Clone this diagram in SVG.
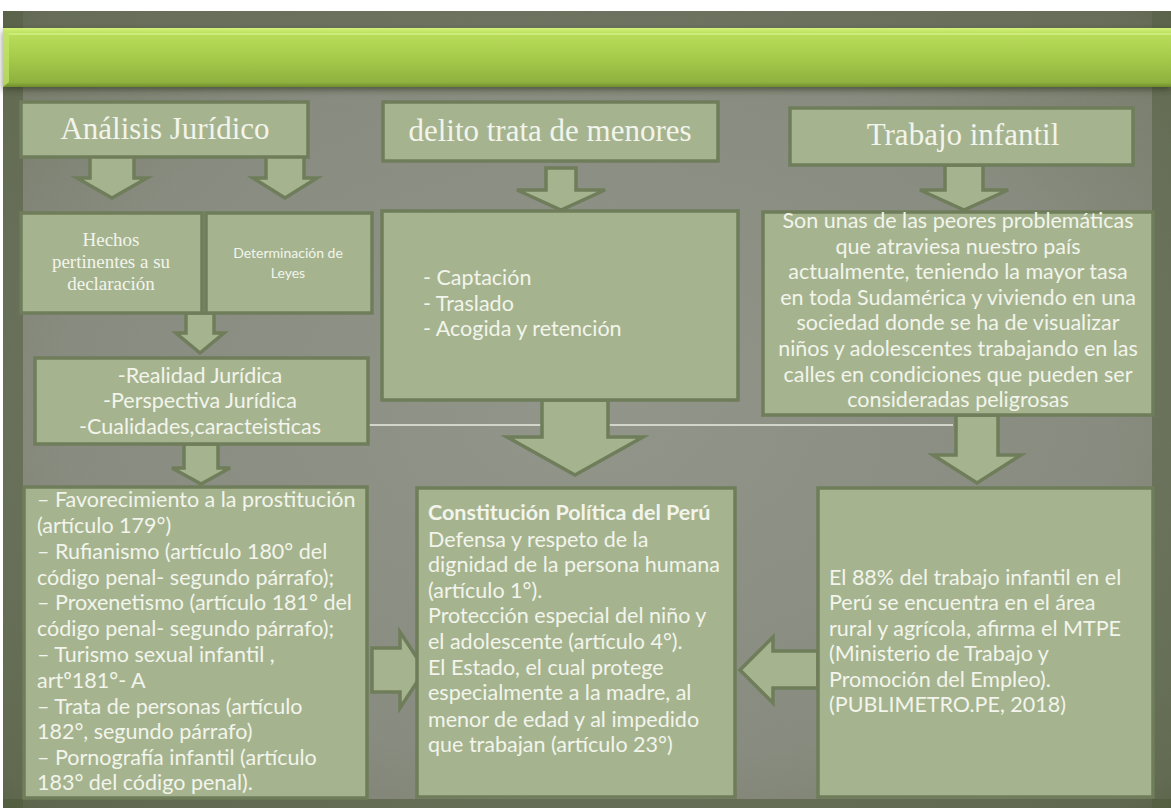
<svg xmlns="http://www.w3.org/2000/svg" width="1171" height="808" viewBox="0 0 1171 808">
<defs>
<radialGradient id="bg" cx="0.5" cy="0.5" r="0.75">
<stop offset="0" stop-color="#929589"/>
<stop offset="0.6" stop-color="#888b7f"/>
<stop offset="0.9" stop-color="#767b69"/>
<stop offset="1" stop-color="#5a6448"/>
</radialGradient>
<linearGradient id="ban" x1="0" y1="0" x2="0" y2="1">
<stop offset="0" stop-color="#d3f27a"/>
<stop offset="0.1" stop-color="#b9dd5a"/>
<stop offset="0.5" stop-color="#a6cb4b"/>
<stop offset="0.92" stop-color="#8fb13f"/>
<stop offset="1" stop-color="#6f8d2c"/>
</linearGradient>
<filter id="grain" x="0" y="0" width="100%" height="100%">
<feTurbulence type="fractalNoise" baseFrequency="0.9" numOctaves="2" seed="3" result="n"/>
<feColorMatrix in="n" type="matrix" values="0 0 0 0 0.3  0 0 0 0 0.32  0 0 0 0 0.26  0 0 0 -1.4 0.85" />
</filter>
<filter id="sh" x="-5%" y="-20%" width="110%" height="160%">
<feDropShadow dx="0" dy="3" stdDeviation="3" flood-color="#2c3320" flood-opacity="0.6"/>
</filter>
<style>
.box{fill:#a5b48f;stroke:#6f7d5a;stroke-width:3.5}
.arr{fill:#a5b48f;stroke:#6f7d5a;stroke-width:3.5;stroke-linejoin:miter}
.ttl{font-family:"Liberation Serif","DejaVu Serif",serif;fill:#f3f4ec;text-anchor:middle;font-size:31px}
.sf{font-family:"Liberation Serif","DejaVu Serif",serif;fill:#f3f4ec;text-anchor:middle;font-size:19px}
.tx{font-family:Lato,"Open Sans","Liberation Sans",sans-serif;fill:#f3f4ec;font-size:21.5px}
.sm{font-size:14px}
.c{text-anchor:middle}
.b{font-weight:bold}
</style>
</defs>
<rect width="1171" height="808" fill="#ffffff"/>
<rect x="3" y="11" width="1168" height="797" fill="url(#bg)"/>
<rect x="3" y="11" width="1168" height="797" filter="url(#grain)" opacity="0.2"/>
<rect x="3" y="11" width="20" height="797" fill="#4c5838" opacity="0.5"/>
<rect x="1152" y="11" width="19" height="797" fill="#4c5838" opacity="0.45"/>
<rect x="3" y="799" width="1168" height="9" fill="#4c5838" opacity="0.55"/>
<rect x="3" y="11" width="1168" height="18" fill="#5a6148" opacity="0.55"/>

<g id="banner" filter="url(#sh)">
<rect x="3" y="28" width="1168" height="59" fill="url(#ban)"/>
<path d="M3 28 L9 33 L9 82 L3 87 Z" fill="#c4e56c" opacity="0.7"/>
<rect x="9" y="33" width="1162" height="2" fill="#d9f590" opacity="0.6"/>
</g>

<g id="connectors">
<line x1="368" y1="425" x2="953" y2="425" stroke="#d2d5ca" stroke-width="1.8"/>
<path class="arr" d="M90 150 H134 V178 H147 L112 198 L77 178 H90 Z"/>
<path class="arr" d="M266 150 H304 V178 H317 L285 198 L253 178 H266 Z"/>
<path class="arr" d="M186 313 H214 V333 H224 L200 353 L176 333 H186 Z"/>
<path class="arr" d="M184 444 H218 V468 H230 L201 484 L172 468 H184 Z"/>
<path class="arr" d="M546 168 H576 V190 H605 L561 210 L517 190 H546 Z"/>
<path class="arr" d="M542 400 H608 V437 H643 L575 475 L507 437 H542 Z"/>
<path class="arr" d="M945 165 H983 V190 H1008 L964 210 L920 190 H945 Z"/>
<path class="arr" d="M956 415 H998 V455 H1021 L977 483 L933 455 H956 Z"/>
<path class="arr" d="M372 648 H400 V632 L425 670 L400 708 V692 H372 Z"/>
<path class="arr" d="M818 651 H773 V637 L740 670 L773 703 V688 H818 Z"/>
</g>

<g id="n-analisis">
<rect class="box" x="21" y="102" width="287" height="55"/>
<text class="ttl" x="165" y="139">Análisis Jurídico</text>
</g>
<g id="n-delito">
<rect class="box" x="383" y="102" width="335" height="59"/>
<text class="ttl" x="550" y="141">delito trata de menores</text>
</g>
<g id="n-trabajo">
<rect class="box" x="790" y="108" width="343" height="57"/>
<text class="ttl" x="963" y="145">Trabajo infantil</text>
</g>
<g id="n-hechos">
<rect class="box" x="21" y="213" width="181" height="100"/>
<text class="sf" x="111" y="246">Hechos</text>
<text class="sf" x="111" y="268">pertinentes a su</text>
<text class="sf" x="111" y="290">declaración</text>
</g>
<g id="n-determinacion">
<rect class="box" x="206" y="213" width="166" height="100"/>
<text class="tx c sm" x="288" y="258">Determinación  de</text>
<text class="tx c sm" x="288" y="278">Leyes</text>
</g>
<g id="n-captacion">
<rect class="box" x="382" y="211" width="356" height="189"/>
<text class="tx" x="423" y="285">- Captación</text>
<text class="tx" x="423" y="311">- Traslado</text>
<text class="tx" x="423" y="336">- Acogida y retención</text>
</g>
<g id="n-problematica">
<rect class="box" x="763" y="212" width="390" height="203"/>
<text class="tx c" x="958" y="228">Son unas de las peores problemáticas</text>
<text class="tx c" x="958" y="254">que atraviesa nuestro país</text>
<text class="tx c" x="958" y="279">actualmente,  teniendo la mayor tasa</text>
<text class="tx c" x="958" y="305">en toda Sudamérica y viviendo en una</text>
<text class="tx c" x="958" y="330">sociedad donde se ha de  visualizar</text>
<text class="tx c" x="958" y="356">niños y adolescentes trabajando en las</text>
<text class="tx c" x="958" y="382">calles en condiciones que pueden ser</text>
<text class="tx c" x="958" y="407">consideradas peligrosas</text>
</g>
<g id="n-realidad">
<rect class="box" x="35" y="358" width="333" height="86"/>
<text class="tx c" x="200" y="383">-Realidad Jurídica</text>
<text class="tx c" x="200" y="408">-Perspectiva Jurídica</text>
<text class="tx c" x="200" y="434">-Cualidades,caracteisticas</text>
</g>
<g id="n-delitos">
<rect class="box" x="24" y="487" width="343" height="311"/>
<text class="tx" x="37" y="507">– Favorecimiento a la prostitución</text>
<text class="tx" x="37" y="533">(artículo 179°)</text>
<text class="tx" x="37" y="559">– Rufianismo (artículo 180° del</text>
<text class="tx" x="37" y="585">código penal- segundo párrafo);</text>
<text class="tx" x="37" y="610">– Proxenetismo (artículo 181° del</text>
<text class="tx" x="37" y="636">código penal- segundo párrafo);</text>
<text class="tx" x="37" y="662">– Turismo sexual infantil ,</text>
<text class="tx" x="37" y="688">artº181°- A</text>
<text class="tx" x="37" y="714">– Trata de personas (artículo</text>
<text class="tx" x="37" y="739">182°, segundo párrafo)</text>
<text class="tx" x="37" y="765">– Pornografía infantil (artículo</text>
<text class="tx" x="37" y="790">183° del código penal).</text>
</g>
<g id="n-constitucion">
<rect class="box" x="417" y="488" width="318" height="309"/>
<text class="tx b" x="428" y="520">Constitución Política del Perú</text>
<text class="tx" x="428" y="547">Defensa y respeto de la</text>
<text class="tx" x="428" y="572">dignidad de la persona humana</text>
<text class="tx" x="428" y="598">(artículo 1°).</text>
<text class="tx" x="428" y="623">Protección especial del niño y</text>
<text class="tx" x="428" y="649">el adolescente (artículo 4°).</text>
<text class="tx" x="428" y="675">El Estado, el cual protege</text>
<text class="tx" x="428" y="700">especialmente a la madre, al</text>
<text class="tx" x="428" y="727">menor de edad y al impedido</text>
<text class="tx" x="428" y="752">que trabajan (artículo 23°)</text>
</g>
<g id="n-estadistica">
<rect class="box" x="818" y="488" width="335" height="309"/>
<text class="tx" x="829" y="585">El 88% del trabajo infantil en el</text>
<text class="tx" x="829" y="610">Perú se encuentra en el área</text>
<text class="tx" x="829" y="636">rural y agrícola, afirma el MTPE</text>
<text class="tx" x="829" y="661">(Ministerio de Trabajo y</text>
<text class="tx" x="829" y="687">Promoción del Empleo).</text>
<text class="tx" x="829" y="712">(PUBLIMETRO.PE, 2018)</text>
</g>
</svg>
